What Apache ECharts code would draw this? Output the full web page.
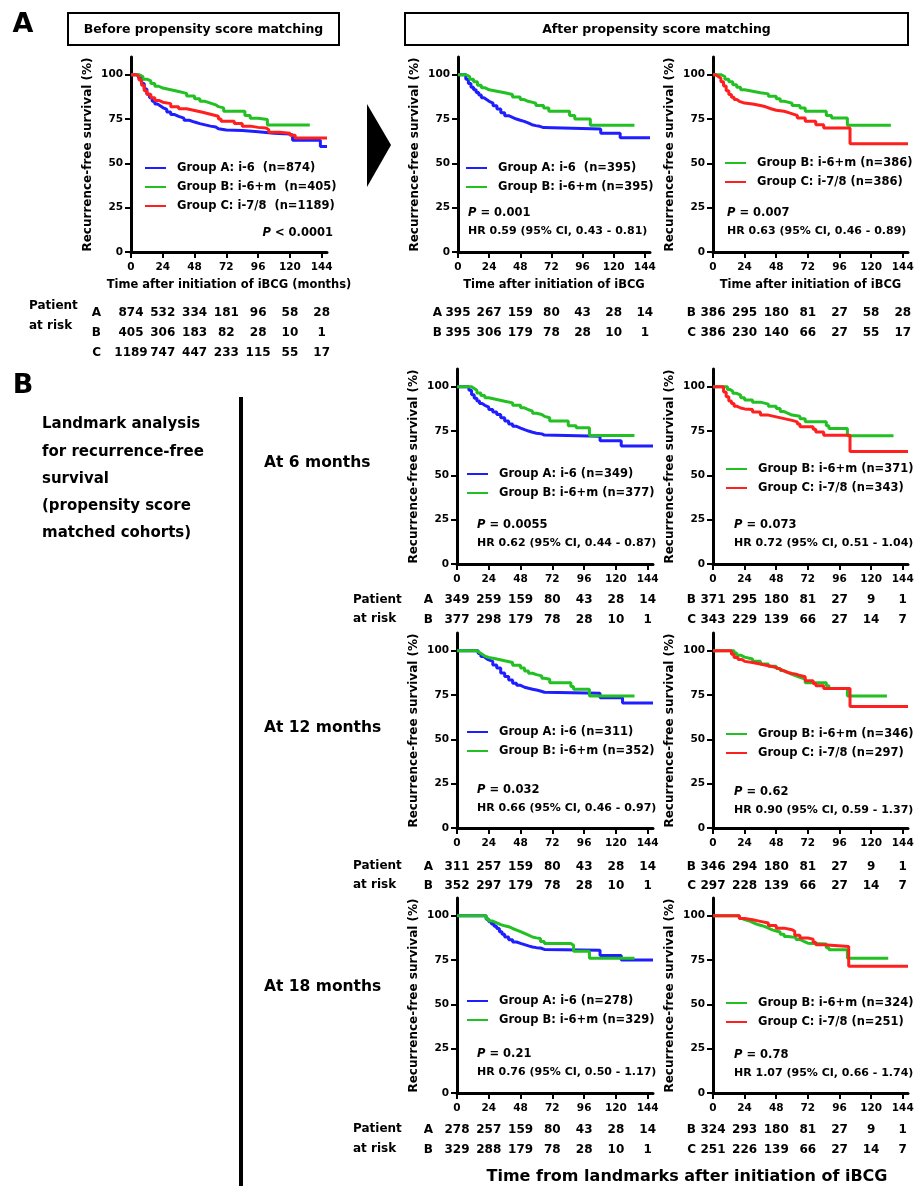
<!DOCTYPE html>
<html lang='en'>
<head>
  <meta charset='UTF-8'>
  <title>Recurrence-free survival</title>
  <script src="https://cdn.jsdelivr.net/npm/echarts@6/dist/echarts.min.js"></script>
  <style>html,body{margin:0;padding:0;background:#fff;}</style>
</head>
<body>
<div id="main" style="width: 921px; height:1186px;"></div>
<script>
  const months = [0, 24, 48, 72, 96, 120, 144]
  const yTicks = [0, 25, 50, 75, 100]

  // KM curves: [month of drop, survival % from then on]
  const a1A = [[0,100],[5,100],[6,98],[8,95],[10,92],[12,89],[14,87],[16,85],[18,83.5],[20,82.5],[22,81.5],[24,80.5],[27,79],[30,77.5],[33,76.5],[36,75.5],[40,74.3],[44,73.3],[48,72.4],[52,71.7],[56,71],[60,70.5],[64,69.5],[66,68.8],[72,68.5],[84,67.8],[96,67],[108,66.5],[120,66],[122,63],[143,59.5],[148,59.5]]
  const a1B = [[0,100],[3,100],[6,99],[9,97.5],[12,96.5],[15,95],[18,93.5],[21,92.5],[24,91.5],[30,90.5],[36,89.5],[42,88],[48,86.5],[52,85],[56,84],[60,83],[64,82],[66,81.3],[70,79.4],[86,77],[90,75.5],[96,74.7],[103,71.7],[135,71.7]]
  const a1C = [[0,100],[4,99],[6,97],[8,94],[10,91],[12,89],[15,87],[18,85.5],[21,84.5],[24,83.7],[30,82],[36,80.8],[42,79.8],[48,78.8],[54,77.7],[60,76.6],[66,75],[68,73.7],[78,72.5],[84,71],[90,70.3],[96,70],[102,69],[104,67.5],[112,67],[120,65.8],[124,64.3],[148,64.3]]

  const a2A = [[0,100],[4,100],[6,97.5],[8,95],[10,93],[12,91.5],[14,90],[16,88.5],[18,87],[20,86],[22,85],[24,84],[27,82.5],[30,80.7],[33,78.5],[36,76.9],[39,76],[42,75],[45,74.3],[48,73.7],[51,72.8],[54,71.8],[57,71.3],[60,70.9],[63,70.2],[66,69.4],[110,67],[125,64.5],[148,64.5]]
  const a2B = [[0,100],[4,100],[6,99],[9,97.5],[12,96],[15,94],[18,92.6],[21,91.5],[24,90.7],[30,89.8],[36,88.8],[42,87.5],[48,86],[51,85],[54,84],[60,82.6],[66,81.3],[70,79.4],[86,77],[90,75],[102,71.5],[136,71.5]]

  const a3B = [[0,100],[4,100],[6,99],[9,97.5],[12,96],[15,94.3],[18,93],[21,91.5],[24,90.7],[30,89.8],[36,89.2],[42,87.8],[48,86.4],[51,85],[54,84],[60,82.6],[66,81.3],[70,79.4],[86,77],[90,75.6],[102,71.5],[135,71.5]]
  const a3C = [[0,100],[2,99],[4,98],[6,96],[8,93.6],[10,91],[12,88.8],[14,87.3],[16,86],[18,85],[20,84],[24,83.5],[30,82.6],[36,81.9],[40,80.8],[44,80],[48,79.4],[54,78.5],[58,77.5],[62,77],[64,75.6],[70,73.7],[78,71.8],[84,70],[104,61],[148,61]]

  const b6A = [[0,100],[7,100],[9,98],[11,95.5],[13,93.5],[15,92],[17,90.5],[19,89.5],[21,88.5],[24,87.2],[27,85.8],[30,84.3],[33,82.5],[36,80.6],[39,79],[42,77.7],[45,76.7],[48,75.8],[51,75],[54,74.3],[57,73.8],[60,73.4],[64,72.7],[66,72],[108,69.5],[124,66.5],[148,66.5]]
  const b6B = [[0,100],[9,100],[11,99],[13,98],[15,96.5],[18,95],[21,93.8],[24,92.8],[30,91.8],[36,90.9],[42,89.5],[48,88.1],[51,87],[54,86.2],[57,85],[60,84.3],[64,83.3],[66,82.5],[70,80.6],[84,78],[90,76.8],[100,72.5],[134,72.5]]
  const b6B2 = [[0,100],[9,100],[11,98.5],[13,97.5],[15,96.3],[18,95.3],[21,93.8],[24,92.5],[30,91.3],[36,90.2],[42,89],[48,87.7],[51,86],[54,85],[57,84],[60,83.4],[66,82],[70,80.2],[86,78],[88,76.4],[102,72.3],[137,72.3]]
  const b6C = [[0,100],[6,100],[8,97],[10,94.3],[12,92],[14,90.6],[16,89],[18,88],[21,87.5],[24,87.2],[30,85.8],[36,84],[42,83],[48,82],[54,81],[60,80.2],[64,79],[66,77.4],[76,76],[78,74.5],[84,72.6],[104,63.5],[148,63.5]]

  const b12A = [[0,100],[14,100],[16,98.5],[18,96.8],[20,95.7],[22,94.8],[24,94],[27,92],[30,90.2],[33,87.5],[36,85.4],[39,83.5],[42,81.7],[45,80.5],[48,79.4],[51,78.8],[54,78.3],[57,77.8],[60,77.3],[63,76.6],[66,76],[108,73.5],[125,70.5],[148,70.5]]
  const b12B = [[0,100],[13,100],[15,99],[17,98],[19,97],[21,96.2],[24,95.3],[30,94.3],[36,93.4],[42,91.8],[48,90.2],[51,88.5],[54,87.3],[57,86.5],[60,85.8],[64,84.5],[66,83.9],[70,82],[86,79.8],[88,78.3],[100,74.5],[134,74.5]]
  const b12B2 = [[0,100],[14,100],[16,98.7],[18,97.5],[21,96.4],[24,95.3],[30,94],[36,92.5],[42,91.2],[48,90],[51,88.8],[54,87.7],[57,86.7],[60,85.8],[63,85],[66,84],[70,82],[86,80.2],[88,78.7],[102,74.5],[132,74.5]]
  const b12C = [[0,100],[12,100],[14,98],[16,96.2],[19,95],[22,94],[24,93.4],[30,92.5],[36,91.5],[42,90.5],[48,89.6],[51,88.5],[54,87.7],[57,87.2],[60,86.8],[63,86],[66,85.3],[70,83],[76,81.5],[78,80.2],[84,78.7],[104,68.5],[148,68.5]]

  const b18A = [[0,100],[20,100],[22,98],[24,96.6],[26,95.3],[28,94],[30,92.8],[32,91],[34,89.5],[36,88],[39,86.5],[42,85.2],[45,84.4],[48,83.7],[51,83],[54,82.4],[57,82],[60,81.8],[63,81],[66,80.5],[108,77.5],[124,75],[148,75]]
  const b18B = [[0,100],[20,100],[22,98.2],[24,97],[27,96],[30,95],[33,94.3],[36,93.8],[39,92.8],[42,91.9],[45,91],[48,90],[51,89],[54,88],[57,87.5],[60,87.1],[63,85.5],[66,84.3],[86,83.3],[88,79.9],[100,76],[134,76]]
  const b18B2 = [[0,100],[18,100],[20,98.5],[22,97.8],[24,97.2],[27,96.3],[30,95.3],[33,94.6],[36,94],[39,93],[42,92],[45,91.4],[48,90.8],[51,89.5],[54,88.3],[57,88],[60,87.8],[63,86.6],[66,85.5],[69,84.5],[72,84],[86,82],[88,80.8],[102,76],[133,76]]
  const b18C = [[0,100],[18,100],[20,98.5],[24,97.7],[30,96.8],[36,95.9],[42,94.5],[48,93],[54,92.1],[60,91.2],[62,89],[66,87.4],[72,86.8],[76,85],[78,83.6],[84,82.7],[103,71.5],[148,71.5]]

  // patients at risk (at months 0..144)
  const riskA1 = { A: [874,532,334,181,96,58,28], B: [405,306,183,82,28,10,1], C: [1189,747,447,233,115,55,17] }
  const riskA2 = { A: [395,267,159,80,43,28,14], B: [395,306,179,78,28,10,1] }
  const riskA3 = { B: [386,295,180,81,27,58,28], C: [386,230,140,66,27,55,17] }
  const riskB6L = { A: [349,259,159,80,43,28,14], B: [377,298,179,78,28,10,1] }
  const riskB6R = { B: [371,295,180,81,27,9,1], C: [343,229,139,66,27,14,7] }
  const riskB12L = { A: [311,257,159,80,43,28,14], B: [352,297,179,78,28,10,1] }
  const riskB12R = { B: [346,294,180,81,27,9,1], C: [297,228,139,66,27,14,7] }
  const riskB18L = { A: [278,257,159,80,43,28,14], B: [329,288,179,78,28,10,1] }
  const riskB18R = { B: [324,293,180,81,27,9,1], C: [251,226,139,66,27,14,7] }

  const FONT = "'DejaVu Sans', sans-serif"
  const BLUE = '#1e1eff', GREEN = '#22c022', RED = '#ff1f1f'

  const panels = [
    { left:131, top:57, width:196, riskTop:303, rowH:20, margin:30, legend:[145,161], xName:'Time after initiation of iBCG (months)',
      curves:[['Group A: i-6  (n=874)', a1A, BLUE], ['Group B: i-6+m  (n=405)', a1B, GREEN], ['Group C: i-7/8  (n=1189)', a1C, RED]],
      risk: riskA1, p:'{i|P} < 0.0001', pPos:[333,233], pAlign:'right' },
    { left:458, top:57, width:192, riskTop:303, rowH:20, margin:16, legend:[466,161], xName:'Time after initiation of iBCG',
      curves:[['Group A: i-6  (n=395)', a2A, BLUE], ['Group B: i-6+m (n=395)', a2B, GREEN]],
      risk: riskA2, p:'{i|P} = 0.001', hr:'HR 0.59 (95% CI, 0.43 - 0.81)', pPos:[468,213] },
    { left:713, top:57, width:195, riskTop:303, rowH:20, margin:17, legend:[725,156], xName:'Time after initiation of iBCG',
      curves:[['Group B: i-6+m (n=386)', a3B, GREEN], ['Group C: i-7/8 (n=386)', a3C, RED]],
      risk: riskA3, p:'{i|P} = 0.007', hr:'HR 0.63 (95% CI, 0.46 - 0.89)', pPos:[727,213] },
    { left:457, top:369, width:196, riskTop:590.5, rowH:19.5, margin:24, legend:[467,467],
      curves:[['Group A: i-6 (n=349)', b6A, BLUE], ['Group B: i-6+m (n=377)', b6B, GREEN]],
      risk: riskB6L, p:'{i|P} = 0.0055', hr:'HR 0.62 (95% CI, 0.44 - 0.87)', pPos:[477,525] },
    { left:713, top:369, width:195, riskTop:590.5, rowH:19.5, margin:17, legend:[726,462],
      curves:[['Group B: i-6+m (n=371)', b6B2, GREEN], ['Group C: i-7/8 (n=343)', b6C, RED]],
      risk: riskB6R, p:'{i|P} = 0.073', hr:'HR 0.72 (95% CI, 0.51 - 1.04)', pPos:[734,525] },
    { left:457, top:633, width:196, riskTop:857, rowH:19.5, margin:24, legend:[467,725],
      curves:[['Group A: i-6 (n=311)', b12A, BLUE], ['Group B: i-6+m (n=352)', b12B, GREEN]],
      risk: riskB12L, p:'{i|P} = 0.032', hr:'HR 0.66 (95% CI, 0.46 - 0.97)', pPos:[477,790] },
    { left:713, top:633, width:195, riskTop:857, rowH:19.5, margin:17, legend:[726,727],
      curves:[['Group B: i-6+m (n=346)', b12B2, GREEN], ['Group C: i-7/8 (n=297)', b12C, RED]],
      risk: riskB12R, p:'{i|P} = 0.62', hr:'HR 0.90 (95% CI, 0.59 - 1.37)', pPos:[734,792] },
    { left:457, top:898, width:196, riskTop:1120, rowH:20, margin:24, legend:[467,994],
      curves:[['Group A: i-6 (n=278)', b18A, BLUE], ['Group B: i-6+m (n=329)', b18B, GREEN]],
      risk: riskB18L, p:'{i|P} = 0.21', hr:'HR 0.76 (95% CI, 0.50 - 1.17)', pPos:[477,1054] },
    { left:713, top:898, width:195, riskTop:1120, rowH:20, margin:17, legend:[726,996],
      curves:[['Group B: i-6+m (n=324)', b18B2, GREEN], ['Group C: i-7/8 (n=251)', b18C, RED]],
      risk: riskB18R, p:'{i|P} = 0.78', hr:'HR 1.07 (95% CI, 0.66 - 1.74)', pPos:[734,1055] }
  ]

  const bold = (size) => ({ fontFamily: FONT, fontWeight: 'bold', fontSize: size, color: '#000' })
  const txt = (x, y, text, size, extra) => ({
    type: 'text', x, y, silent: true,
    style: Object.assign({ text, fontFamily: FONT, fontWeight: 'bold', fontSize: size, fill: '#000', align: 'left', verticalAlign: 'middle' }, extra || {})
  })

  const grids = [], xAxes = [], yAxes = [], series = [], legends = [], graphics = []

  panels.forEach(p => {
    const gi = grids.length
    grids.push({ left: p.left, top: p.top, width: p.width, height: 195 })
    xAxes.push({
      gridIndex: gi, type: 'value', min: 0, max: 148, interval: 24,
      axisLine: { lineStyle: { color: '#000', width: 3 } },
      axisTick: { length: 6, lineStyle: { color: '#000', width: 2 }, customValues: months },
      axisLabel: Object.assign(bold(10.5), { margin: 10, customValues: months, formatter: v => months.includes(v) ? v : '' }),
      splitLine: { show: false },
      name: p.xName || '', nameLocation: 'middle', nameGap: 27, nameTextStyle: bold(11.5)
    })
    yAxes.push({
      gridIndex: gi, type: 'value', min: 0, max: 110, interval: 25,
      axisLine: { show: true, lineStyle: { color: '#000', width: 3 } },
      axisTick: { show: true, length: 6, lineStyle: { color: '#000', width: 2 }, customValues: yTicks },
      axisLabel: Object.assign(bold(10.5), { margin: 8, customValues: yTicks, formatter: v => yTicks.includes(v) ? v : '' }),
      splitLine: { show: false },
      name: 'Recurrence-free survival (%)', nameLocation: 'middle', nameGap: 37, nameTextStyle: bold(12)
    })
    p.curves.forEach(([name, data, color]) => series.push({
      type: 'line', name, data, step: 'end', xAxisIndex: gi, yAxisIndex: gi,
      showSymbol: false, symbol: 'none', silent: true,
      lineStyle: { color, width: 3 }, itemStyle: { color }
    }))
    legends.push({
      orient: 'vertical', left: p.legend[0], top: p.legend[1], padding: 0,
      data: p.curves.map(c => c[0]), icon: 'rect', itemWidth: 21, itemHeight: 2, itemGap: 5,
      selectedMode: false,
      textStyle: Object.assign(bold(11.5), { lineHeight: 14, padding: [0, 0, 0, 6] })
    })

    // patients at risk table under the plot
    const ri = grids.length
    const rows = Object.keys(p.risk)
    grids.push({ left: p.left, top: p.riskTop, width: p.width, height: rows.length * p.rowH })
    xAxes.push({ gridIndex: ri, type: 'value', min: 0, max: 148, show: false })
    yAxes.push({
      gridIndex: ri, type: 'category', data: rows, inverse: true,
      axisLine: { show: false }, axisTick: { show: false }, splitLine: { show: false },
      axisLabel: Object.assign(bold(12), { margin: p.margin })
    })
    rows.forEach(r => series.push({
      type: 'scatter', xAxisIndex: ri, yAxisIndex: ri, silent: true,
      symbolSize: 0, itemStyle: { color: '#000', opacity: 1 },
      data: months.map((m, k) => [m, r, p.risk[r][k]]),
      label: Object.assign(bold(12), {
        show: true, position: 'inside', textBorderWidth: 0, opacity: 1,
        formatter: q => q.value[2]
      })
    }))

    const rich = { i: { fontFamily: FONT, fontWeight: 'bold', fontStyle: 'italic', fontSize: 11.5, fill: '#000' } }
    graphics.push(txt(p.pPos[0], p.pPos[1], p.p, 11.5, { rich, align: p.pAlign || 'left' }))
    if (p.hr) graphics.push(txt(p.pPos[0], p.pPos[1] + 18, p.hr, 11))
  })

  // figure furniture
  graphics.push(
    txt(23, 25, 'A', 27, { align: 'center' }),
    txt(23, 386, 'B', 27, { align: 'center' }),
    { type: 'rect', shape: { x: 68, y: 13, width: 271, height: 32 }, style: { fill: '#fff', stroke: '#000', lineWidth: 2 }, silent: true },
    txt(203.5, 29.5, 'Before propensity score matching', 12.5, { align: 'center' }),
    { type: 'rect', shape: { x: 405, y: 13, width: 503, height: 32 }, style: { fill: '#fff', stroke: '#000', lineWidth: 2 }, silent: true },
    txt(656.5, 29.5, 'After propensity score matching', 12.5, { align: 'center' }),
    { type: 'polygon', shape: { points: [[367, 104], [391, 145], [367, 187]] }, style: { fill: '#000' }, silent: true },
    txt(29, 306, 'Patient', 12), txt(29, 326, 'at risk', 12),
    txt(353, 600, 'Patient', 12), txt(353, 619, 'at risk', 12),
    txt(353, 866, 'Patient', 12), txt(353, 885, 'at risk', 12),
    txt(353, 1129, 'Patient', 12), txt(353, 1149, 'at risk', 12),
    txt(42, 424, 'Landmark analysis', 15),
    txt(42, 452, 'for recurrence-free', 15),
    txt(42, 479, 'survival', 15),
    txt(42, 506, '(propensity score', 15),
    txt(42, 533, 'matched cohorts)', 15),
    { type: 'line', shape: { x1: 241, y1: 397, x2: 241, y2: 1186 }, style: { stroke: '#000', lineWidth: 4 }, silent: true },
    txt(264, 463, 'At 6 months', 15.5),
    txt(264, 728, 'At 12 months', 15.5),
    txt(264, 987, 'At 18 months', 15.5),
    txt(687, 1177, 'Time from landmarks after initiation of iBCG', 16, { align: 'center' })
  )

  const myChart = echarts.init(document.getElementById('main'))
  myChart.setOption({
    animation: false,
    backgroundColor: '#fff',
    grid: grids,
    xAxis: xAxes,
    yAxis: yAxes,
    legend: legends,
    series,
    graphic: graphics
  })
</script>
</body>
</html>
